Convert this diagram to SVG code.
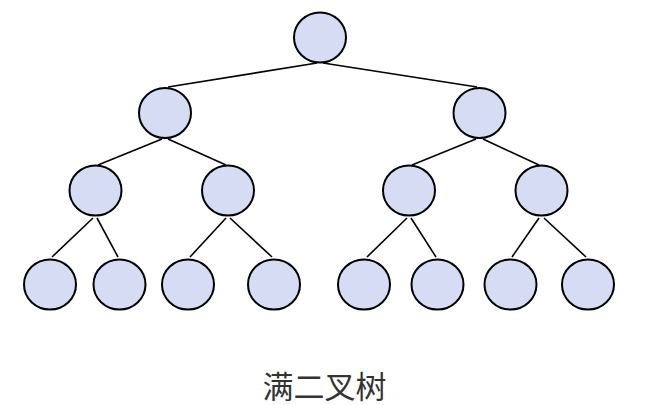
<svg xmlns="http://www.w3.org/2000/svg" width="647" height="405" viewBox="0 0 647 405">
<style>
.n{fill:#d5dcf4;stroke:#000;stroke-width:2}
.e line{stroke:#000;stroke-width:1.6}
.t{font-family:"Noto Sans CJK SC","Noto Sans",sans-serif;font-size:31px;fill:#333;text-anchor:middle}
</style>
<rect width="647" height="405" fill="#fff"/>
<g id="connectors" class="e">
<line x1="317" y1="63" x2="168" y2="87"/>
<line x1="323" y1="63" x2="477" y2="87"/>
<line x1="162" y1="139" x2="98" y2="165"/>
<line x1="168" y1="139" x2="226" y2="165"/>
<line x1="476" y1="139" x2="412" y2="165"/>
<line x1="483" y1="139" x2="539" y2="165"/>
<line x1="93" y1="218" x2="52" y2="257"/>
<line x1="97" y1="218" x2="118" y2="257"/>
<line x1="226" y1="218" x2="190" y2="257"/>
<line x1="230" y1="218" x2="272" y2="257"/>
<line x1="407" y1="218" x2="367" y2="257"/>
<line x1="411" y1="218" x2="436" y2="257"/>
<line x1="539" y1="218" x2="512" y2="257"/>
<line x1="544" y1="218" x2="586" y2="257"/>
</g>
<g id="n1"><ellipse class="n" cx="320" cy="37.5" rx="26" ry="25"/></g>
<g id="n2"><ellipse class="n" cx="165" cy="113" rx="26" ry="25"/></g>
<g id="n3"><ellipse class="n" cx="479.5" cy="113" rx="26" ry="25"/></g>
<g id="n4"><ellipse class="n" cx="95.5" cy="190.5" rx="26" ry="25"/></g>
<g id="n5"><ellipse class="n" cx="228" cy="190.5" rx="26" ry="25"/></g>
<g id="n6"><ellipse class="n" cx="409" cy="190.5" rx="26" ry="25"/></g>
<g id="n7"><ellipse class="n" cx="541.5" cy="190.5" rx="26" ry="25"/></g>
<g id="n8"><ellipse class="n" cx="50" cy="284.5" rx="26" ry="25"/></g>
<g id="n9"><ellipse class="n" cx="119.5" cy="284.5" rx="26" ry="25"/></g>
<g id="n10"><ellipse class="n" cx="188" cy="284.5" rx="26" ry="25"/></g>
<g id="n11"><ellipse class="n" cx="274" cy="284.5" rx="26" ry="25"/></g>
<g id="n12"><ellipse class="n" cx="364" cy="284.5" rx="26" ry="25"/></g>
<g id="n13"><ellipse class="n" cx="437.5" cy="284.5" rx="26" ry="25"/></g>
<g id="n14"><ellipse class="n" cx="510.5" cy="284.5" rx="26" ry="25"/></g>
<g id="n15"><ellipse class="n" cx="588" cy="284.5" rx="26" ry="25"/></g>
<text class="t" x="324.5" y="398">满二叉树</text>
</svg>
